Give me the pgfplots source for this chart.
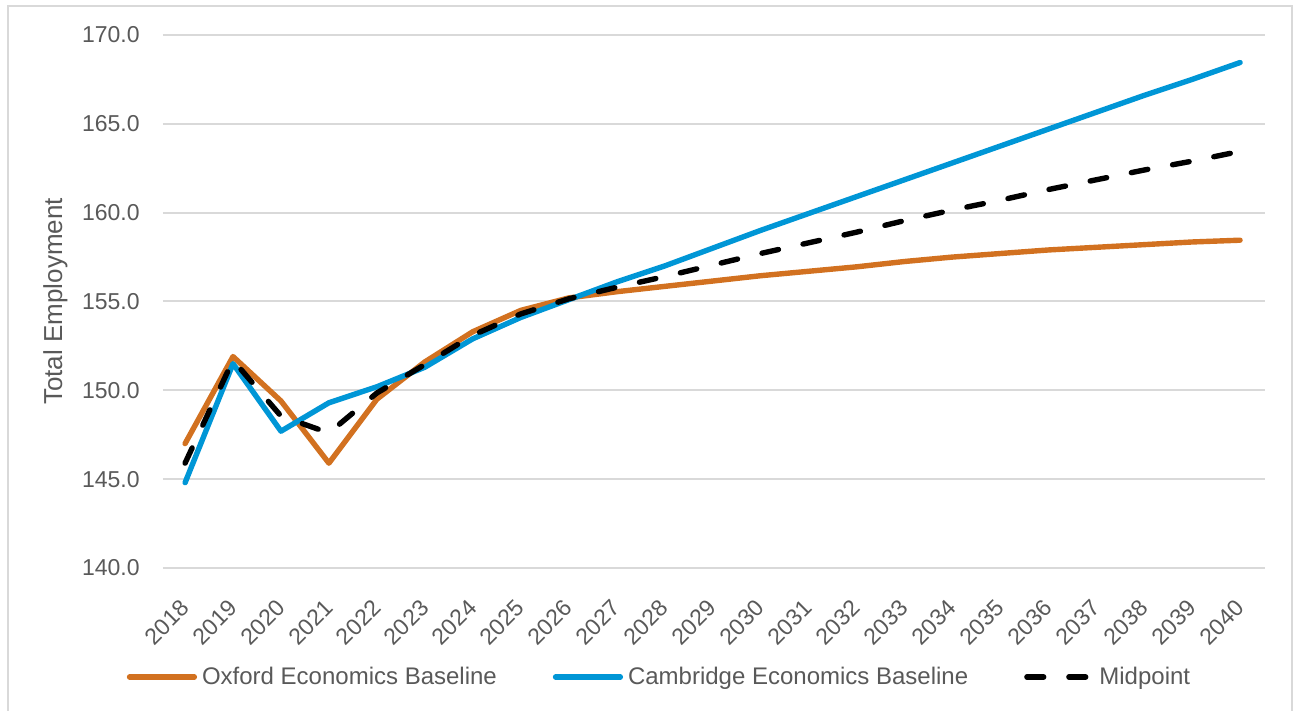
\documentclass[border=0pt]{standalone}
\usepackage{fontspec}
\setmainfont{Liberation Sans}
\usepackage{pgfplots}
\usepackage{pgfplotstable}
\pgfplotsset{compat=1.18}

\definecolor{oxf}{RGB}{210,113,32}
\definecolor{cam}{RGB}{0,150,214}
\definecolor{txt}{RGB}{89,89,89}
\definecolor{grd}{RGB}{217,217,217}

% total employment
\pgfplotstableread{
year oxf cam mid
2018 147.0 144.8 145.9
2019 151.9 151.5 151.7
2020 149.4 147.7 148.55
2021 145.9 149.3 147.6
2022 149.5 150.2 149.85
2023 151.6 151.3 151.45
2024 153.3 152.9 153.1
2025 154.5 154.1 154.3
2026 155.2 155.1 155.15
2027 155.55 156.1 155.8
2028 155.85 157.0 156.4
2029 156.15 158.0 157.05
2030 156.45 159.0 157.7
2031 156.7 159.95 158.3
2032 156.95 160.9 158.9
2033 157.25 161.85 159.55
2034 157.5 162.8 160.15
2035 157.7 163.75 160.7
2036 157.9 164.7 161.3
2037 158.05 165.65 161.85
2038 158.2 166.6 162.4
2039 158.35 167.5 162.9
2040 158.45 168.45 163.45
}\emp

\begin{document}
\begin{tikzpicture}
\path[use as bounding box] (-81.5pt,-71.5pt) rectangle (567pt,284pt);
\draw[grd, line width=1pt] (-77.5pt,-80pt) -- (-77.5pt,281pt) -- (564.5pt,281pt) -- (564.5pt,-80pt);
\begin{axis}[
    scale only axis,
    width=551pt, height=266.5pt,
    xmin=2017.54, xmax=2040.52,
    ymin=140, ymax=170,
    xtick={2018,...,2040},
    ytick={140,145,...,170},
    axis line style={draw=none},
    major tick length=0pt,
    ymajorgrids,
    grid style={grd, line width=1pt},
    /pgf/number format/assume math mode=true,
    tick label style={text=txt, font=\fontsize{11.5}{13}\selectfont},
    xticklabel style={inner sep=0pt, anchor=east, yshift=-18pt, rotate=45,
        /pgf/number format/1000 sep={}},
    yticklabel style={inner sep=0pt, anchor=east, xshift=-11.5pt,
        /pgf/number format/.cd, fixed, fixed zerofill, precision=1},
    ylabel={Total Employment},
    ylabel style={at={(axis description cs:-0.0862,0.5)}, anchor=south,
        inner sep=0pt, text=txt, font=\fontsize{13}{15}\selectfont},
    legend columns=3,
    legend style={at={(axis description cs:0.4519,-0.2045)}, anchor=center,
        draw=none, fill=none, text=txt, font=\fontsize{12}{14}\selectfont,
        nodes={inner xsep=2.5pt},
        /tikz/every even column/.append style={column sep=25.5pt}},
    legend image code/.code={\draw[#1] (1.3pt,0pt) -- (33.7pt,0pt);},
    every axis plot/.append style={line width=2.7pt, line cap=round, line join=round},
]
\addplot[oxf] table[x=year, y=oxf] {\emp};
\addlegendentry{Oxford Economics Baseline}
\addplot[cam] table[x=year, y=cam] {\emp};
\addlegendentry{Cambridge Economics Baseline}
\addplot[black, dash pattern=on 8.4pt off 12.6pt] table[x=year, y=mid] {\emp};
\addlegendentry{Midpoint}
\end{axis}
\end{tikzpicture}
\end{document}
